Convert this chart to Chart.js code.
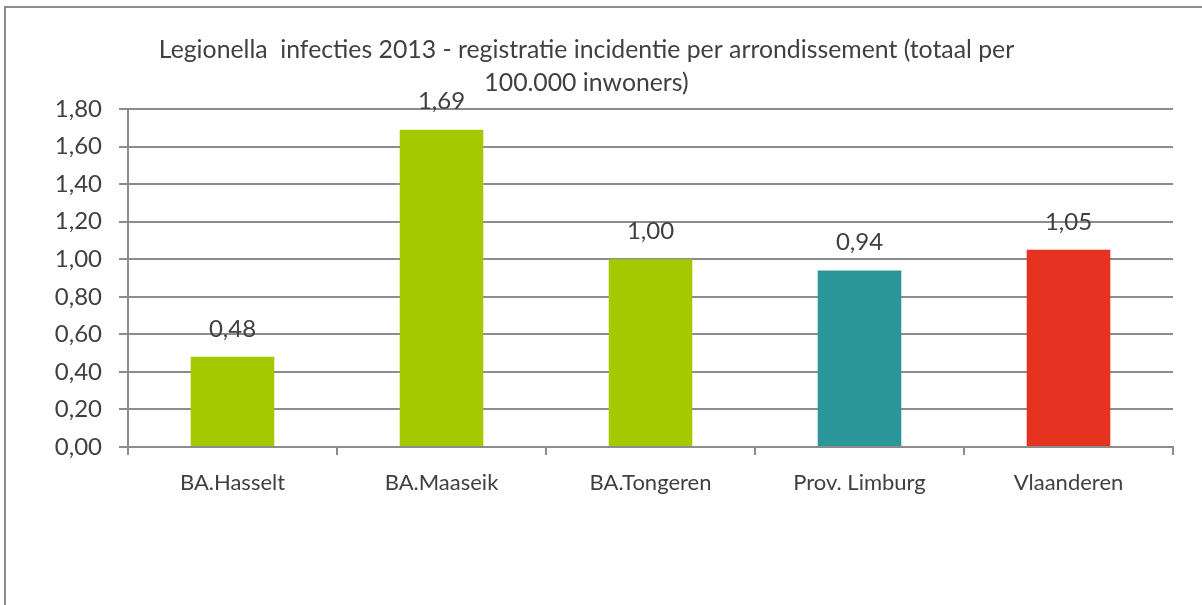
<!DOCTYPE html>
<html>
<head>
<meta charset="utf-8">
<script src="https://cdn.jsdelivr.net/npm/chart.js@4"></script>
<style>
  html, body { margin: 0; padding: 0; background: #fff; }
  #wrap { width: 1202px; height: 605px; position: relative; }
</style>
</head>
<body>
<div id="wrap"><canvas id="chart"></canvas></div>
<script>
// data
const categories = ['BA.Hasselt', 'BA.Maaseik', 'BA.Tongeren', 'Prov. Limburg', 'Vlaanderen'];
const values = [0.48, 1.69, 1.00, 0.94, 1.05];
const barColors = ['#a5c900', '#a5c900', '#a5c900', '#2b979a', '#e63221'];
const titleLines = [
    'Legionella  infecties 2013 - registratie incidentie per arrondissement (totaal per',
    '100.000 inwoners)'
];

const fontFamily = 'Lato, "Open Sans", sans-serif';
const numSize = 24;
const textColor = '#404040';
const lineColor = '#8c8c8c';

const fmt = v => Number(v).toFixed(2).replace('.', ',');

// outer frame of the chart object (left and top edges are visible)
const framePlugin = {
    id: 'frame',
    beforeDraw(chart) {
        const ctx = chart.ctx;
        ctx.save();
        ctx.strokeStyle = lineColor;
        ctx.lineWidth = 2;
        ctx.beginPath();
        ctx.moveTo(5, chart.height + 5);
        ctx.lineTo(5, 7);
        ctx.lineTo(chart.width + 5, 7);
        ctx.stroke();
        ctx.restore();
    }
};

// value labels above each bar
const valueLabels = {
    id: 'valueLabels',
    afterDatasetsDraw(chart) {
        const ctx = chart.ctx;
        const meta = chart.getDatasetMeta(0);
        ctx.save();
        ctx.font = numSize + 'px ' + fontFamily;
        ctx.fillStyle = textColor;
        ctx.textAlign = 'center';
        ctx.textBaseline = 'middle';
        meta.data.forEach((bar, i) => {
            ctx.fillText(fmt(values[i]), bar.x, bar.y - 28);
        });
        ctx.restore();
    }
};

new Chart(
    document.getElementById('chart'),
    {
        type: 'bar',
        data: {
            labels: categories,
            datasets: [
                {
                    label: 'Incidentie',
                    data: values,
                    backgroundColor: barColors,
                    borderWidth: 0,
                    barPercentage: 0.4,
                    categoryPercentage: 1.0
                }
            ]
        },
        options: {
            responsive: true,
            maintainAspectRatio: false,
            animation: false,
            layout: {
                padding: { left: 0, right: 29, top: 0, bottom: 0 }
            },
            plugins: {
                legend: { display: false },
                tooltip: { enabled: false },
                title: {
                    display: true,
                    text: titleLines,
                    color: textColor,
                    font: { family: fontFamily, size: 24.8, weight: 'normal', lineHeight: '33px' },
                    padding: { top: 34, bottom: 9 }
                }
            },
            scales: {
                x: {
                    afterFit(scale) { scale.height = 158; },
                    grid: {
                        drawOnChartArea: false,
                        offset: true,
                        color: lineColor,
                        lineWidth: 2,
                        tickLength: 8
                    },
                    border: { color: lineColor, width: 2 },
                    ticks: {
                        color: textColor,
                        padding: 15,
                        font: { family: fontFamily, size: 22 }
                    }
                },
                y: {
                    min: 0,
                    max: 1.8,
                    afterFit(scale) { scale.width = 128; },
                    grid: {
                        color: lineColor,
                        lineWidth: 2,
                        tickLength: 9
                    },
                    border: { color: lineColor, width: 2 },
                    ticks: {
                        stepSize: 0.2,
                        color: textColor,
                        padding: 17,
                        font: { family: fontFamily, size: numSize },
                        callback: v => fmt(v)
                    }
                }
            }
        },
        plugins: [framePlugin, valueLabels]
    }
);
</script>
</body>
</html>
